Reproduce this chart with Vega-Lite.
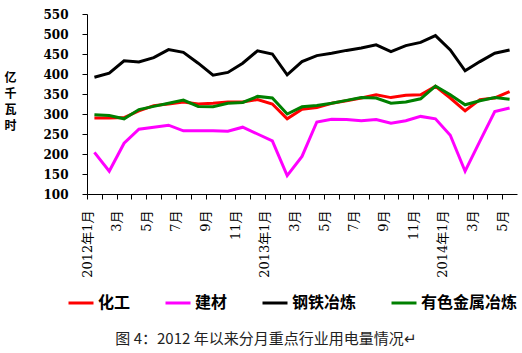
{
  "$schema": "https://vega.github.io/schema/vega-lite/v6.json",
  "width": 430,
  "height": 180,
  "autosize": "none",
  "padding": {"left": 87, "top": 14, "right": 5, "bottom": 159},
  "background": "white",
  "config": {"view": {"stroke": null}},
  "title": {
    "text": "图 4：2012 年以来分月重点行业用电量情况↵",
    "orient": "bottom",
    "anchor": "middle",
    "font": "Noto Sans CJK SC",
    "fontSize": 15,
    "fontWeight": "normal",
    "color": "#222222",
    "offset": 21,
    "dx": -36
  },
  "data": {
    "values": [
      {"month": "2012-01", "series": "化工", "value": 290},
      {"month": "2012-02", "series": "化工", "value": 290},
      {"month": "2012-03", "series": "化工", "value": 291},
      {"month": "2012-04", "series": "化工", "value": 308},
      {"month": "2012-05", "series": "化工", "value": 321},
      {"month": "2012-06", "series": "化工", "value": 325},
      {"month": "2012-07", "series": "化工", "value": 330},
      {"month": "2012-08", "series": "化工", "value": 325},
      {"month": "2012-09", "series": "化工", "value": 327},
      {"month": "2012-10", "series": "化工", "value": 330},
      {"month": "2012-11", "series": "化工", "value": 330},
      {"month": "2012-12", "series": "化工", "value": 336},
      {"month": "2013-01", "series": "化工", "value": 325},
      {"month": "2013-02", "series": "化工", "value": 288},
      {"month": "2013-03", "series": "化工", "value": 312},
      {"month": "2013-04", "series": "化工", "value": 316},
      {"month": "2013-05", "series": "化工", "value": 327},
      {"month": "2013-06", "series": "化工", "value": 333},
      {"month": "2013-07", "series": "化工", "value": 340},
      {"month": "2013-08", "series": "化工", "value": 348},
      {"month": "2013-09", "series": "化工", "value": 341},
      {"month": "2013-10", "series": "化工", "value": 347},
      {"month": "2013-11", "series": "化工", "value": 348},
      {"month": "2013-12", "series": "化工", "value": 369},
      {"month": "2014-01", "series": "化工", "value": 340},
      {"month": "2014-02", "series": "化工", "value": 308},
      {"month": "2014-03", "series": "化工", "value": 336},
      {"month": "2014-04", "series": "化工", "value": 340},
      {"month": "2014-05", "series": "化工", "value": 356},

      {"month": "2012-01", "series": "建材", "value": 204},
      {"month": "2012-02", "series": "建材", "value": 157},
      {"month": "2012-03", "series": "建材", "value": 227},
      {"month": "2012-04", "series": "建材", "value": 262},
      {"month": "2012-05", "series": "建材", "value": 267},
      {"month": "2012-06", "series": "建材", "value": 272},
      {"month": "2012-07", "series": "建材", "value": 258},
      {"month": "2012-08", "series": "建材", "value": 258},
      {"month": "2012-09", "series": "建材", "value": 258},
      {"month": "2012-10", "series": "建材", "value": 257},
      {"month": "2012-11", "series": "建材", "value": 267},
      {"month": "2012-12", "series": "建材", "value": 250},
      {"month": "2013-01", "series": "建材", "value": 233},
      {"month": "2013-02", "series": "建材", "value": 146},
      {"month": "2013-03", "series": "建材", "value": 194},
      {"month": "2013-04", "series": "建材", "value": 280},
      {"month": "2013-05", "series": "建材", "value": 287},
      {"month": "2013-06", "series": "建材", "value": 286},
      {"month": "2013-07", "series": "建材", "value": 283},
      {"month": "2013-08", "series": "建材", "value": 286},
      {"month": "2013-09", "series": "建材", "value": 277},
      {"month": "2013-10", "series": "建材", "value": 283},
      {"month": "2013-11", "series": "建材", "value": 294},
      {"month": "2013-12", "series": "建材", "value": 288},
      {"month": "2014-01", "series": "建材", "value": 247},
      {"month": "2014-02", "series": "建材", "value": 157},
      {"month": "2014-03", "series": "建材", "value": 232},
      {"month": "2014-04", "series": "建材", "value": 306},
      {"month": "2014-05", "series": "建材", "value": 315},

      {"month": "2012-01", "series": "钢铁冶炼", "value": 392},
      {"month": "2012-02", "series": "钢铁冶炼", "value": 402},
      {"month": "2012-03", "series": "钢铁冶炼", "value": 433},
      {"month": "2012-04", "series": "钢铁冶炼", "value": 430},
      {"month": "2012-05", "series": "钢铁冶炼", "value": 441},
      {"month": "2012-06", "series": "钢铁冶炼", "value": 461},
      {"month": "2012-07", "series": "钢铁冶炼", "value": 454},
      {"month": "2012-08", "series": "钢铁冶炼", "value": 427},
      {"month": "2012-09", "series": "钢铁冶炼", "value": 397},
      {"month": "2012-10", "series": "钢铁冶炼", "value": 404},
      {"month": "2012-11", "series": "钢铁冶炼", "value": 427},
      {"month": "2012-12", "series": "钢铁冶炼", "value": 458},
      {"month": "2013-01", "series": "钢铁冶炼", "value": 450},
      {"month": "2013-02", "series": "钢铁冶炼", "value": 398},
      {"month": "2013-03", "series": "钢铁冶炼", "value": 431},
      {"month": "2013-04", "series": "钢铁冶炼", "value": 446},
      {"month": "2013-05", "series": "钢铁冶炼", "value": 452},
      {"month": "2013-06", "series": "钢铁冶炼", "value": 459},
      {"month": "2013-07", "series": "钢铁冶炼", "value": 465},
      {"month": "2013-08", "series": "钢铁冶炼", "value": 473},
      {"month": "2013-09", "series": "钢铁冶炼", "value": 456},
      {"month": "2013-10", "series": "钢铁冶炼", "value": 471},
      {"month": "2013-11", "series": "钢铁冶炼", "value": 479},
      {"month": "2013-12", "series": "钢铁冶炼", "value": 496},
      {"month": "2014-01", "series": "钢铁冶炼", "value": 460},
      {"month": "2014-02", "series": "钢铁冶炼", "value": 408},
      {"month": "2014-03", "series": "钢铁冶炼", "value": 431},
      {"month": "2014-04", "series": "钢铁冶炼", "value": 452},
      {"month": "2014-05", "series": "钢铁冶炼", "value": 460},

      {"month": "2012-01", "series": "有色金属冶炼", "value": 298},
      {"month": "2012-02", "series": "有色金属冶炼", "value": 296},
      {"month": "2012-03", "series": "有色金属冶炼", "value": 288},
      {"month": "2012-04", "series": "有色金属冶炼", "value": 311},
      {"month": "2012-05", "series": "有色金属冶炼", "value": 319},
      {"month": "2012-06", "series": "有色金属冶炼", "value": 327},
      {"month": "2012-07", "series": "有色金属冶炼", "value": 335},
      {"month": "2012-08", "series": "有色金属冶炼", "value": 319},
      {"month": "2012-09", "series": "有色金属冶炼", "value": 318},
      {"month": "2012-10", "series": "有色金属冶炼", "value": 327},
      {"month": "2012-11", "series": "有色金属冶炼", "value": 329},
      {"month": "2012-12", "series": "有色金属冶炼", "value": 344},
      {"month": "2013-01", "series": "有色金属冶炼", "value": 340},
      {"month": "2013-02", "series": "有色金属冶炼", "value": 300},
      {"month": "2013-03", "series": "有色金属冶炼", "value": 318},
      {"month": "2013-04", "series": "有色金属冶炼", "value": 321},
      {"month": "2013-05", "series": "有色金属冶炼", "value": 327},
      {"month": "2013-06", "series": "有色金属冶炼", "value": 334},
      {"month": "2013-07", "series": "有色金属冶炼", "value": 341},
      {"month": "2013-08", "series": "有色金属冶炼", "value": 340},
      {"month": "2013-09", "series": "有色金属冶炼", "value": 327},
      {"month": "2013-10", "series": "有色金属冶炼", "value": 330},
      {"month": "2013-11", "series": "有色金属冶炼", "value": 338},
      {"month": "2013-12", "series": "有色金属冶炼", "value": 370},
      {"month": "2014-01", "series": "有色金属冶炼", "value": 348},
      {"month": "2014-02", "series": "有色金属冶炼", "value": 323},
      {"month": "2014-03", "series": "有色金属冶炼", "value": 333},
      {"month": "2014-04", "series": "有色金属冶炼", "value": 341},
      {"month": "2014-05", "series": "有色金属冶炼", "value": 337}
    ]
  },
  "mark": {"type": "line", "strokeWidth": 3},
  "encoding": {
    "x": {
      "field": "month",
      "type": "ordinal",
      "scale": {"type": "point", "padding": 0.5},
      "axis": {
        "title": null,
        "grid": false,
        "domainColor": "#000000",
        "tickColor": "#000000",
        "tickSize": 5,
        "tickOffset": -7.41,
        "labelAngle": 270,
        "labelFont": "DejaVu Serif, Noto Sans CJK SC",
        "labelFontSize": 13,
        "labelColor": "#000000",
        "labelPadding": 11,
        "labelOverlap": false,
        "labelExpr": "parseInt(slice(datum.value, 5)) % 2 == 1 ? (slice(datum.value, 5) == '01' ? slice(datum.value, 0, 4) + '年1月' : parseInt(slice(datum.value, 5)) + '月') : ''"
      }
    },
    "y": {
      "field": "value",
      "type": "quantitative",
      "scale": {"domain": [100, 550], "nice": false, "zero": false},
      "axis": {
        "values": [100, 150, 200, 250, 300, 350, 400, 450, 500, 550],
        "grid": false,
        "domainColor": "#000000",
        "tickColor": "#000000",
        "tickSize": 5,
        "labelFont": "DejaVu Serif",
        "labelFontWeight": "bold",
        "labelFontSize": 12,
        "labelColor": "#000000",
        "labelPadding": 14,
        "title": ["亿", "千", "瓦", "时"],
        "titleAngle": 0,
        "titleFont": "Noto Sans CJK SC",
        "titleFontWeight": "bold",
        "titleFontSize": 12,
        "titleLineHeight": 16,
        "titleColor": "#000000",
        "titleX": -77,
        "titleY": 58,
        "titleAlign": "center",
        "titleBaseline": "top"
      }
    },
    "color": {
      "field": "series",
      "type": "nominal",
      "scale": {
        "domain": ["化工", "建材", "钢铁冶炼", "有色金属冶炼"],
        "range": ["#FF0000", "#FF00FF", "#000000", "#008000"]
      },
      "legend": {
        "title": null,
        "orient": "none",
        "legendX": -20,
        "legendY": 275,
        "direction": "horizontal",
        "symbolType": "stroke",
        "symbolSize": 625,
        "symbolStrokeWidth": 3,
        "labelFont": "Noto Sans CJK SC",
        "labelFontWeight": "bold",
        "labelFontSize": 16,
        "labelColor": "#000000",
        "labelOffset": 3,
        "columnPadding": 28
      }
    }
  }
}
